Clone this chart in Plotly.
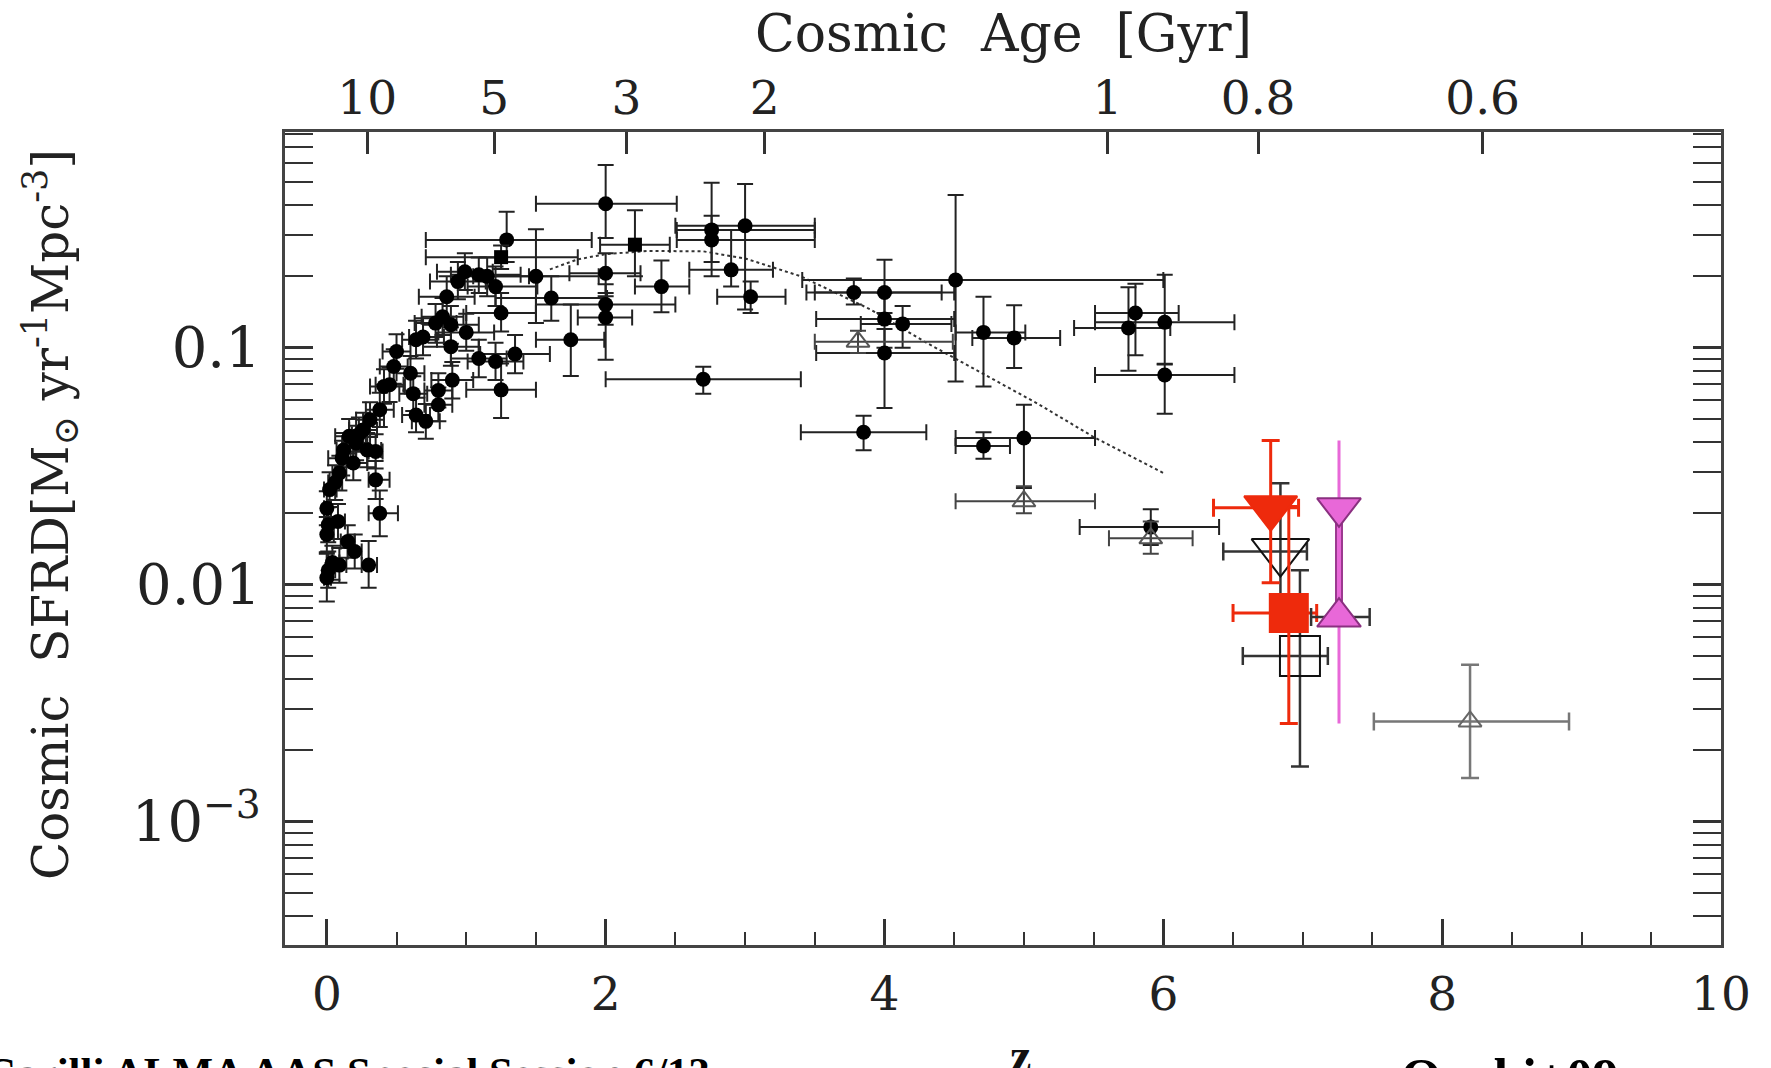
import plotly.graph_objects as go

# ---------------- data ----------------
# compilation of cosmic SFRD measurements: filled circles
circ_z = [0.00, 0.01, 0.04, 0.09, 0.00, 0.15, 0.20, 0.30, 0.01, 0.08, 0.00, 0.38, 0.02, 0.09, 0.35,
          0.11, 0.19, 0.29, 0.35, 0.16, 0.21, 0.26, 0.31, 0.38, 0.23, 0.12, 0.06, 0.41, 0.45, 0.48,
          0.50, 0.60, 0.62, 0.64, 0.71, 0.64, 0.69, 0.78, 0.80, 0.80, 0.83, 0.86, 0.89, 0.89, 0.90,
          0.94, 0.99, 1.00, 1.09, 1.15, 1.21, 1.09, 1.21, 1.25, 1.25, 1.29, 1.35, 1.50, 1.61, 1.75,
          2.00, 2.00, 2.00, 2.00, 2.40, 2.70, 2.76, 2.76, 2.90, 3.00, 3.04, 3.78, 4.00, 4.00, 4.00,
          4.13, 4.51, 4.71, 4.93, 3.85, 4.71, 5.00, 5.91, 5.80, 5.75, 6.01, 6.01]
circ_sfrd = [0.0107, 0.0115, 0.0124, 0.0121, 0.0163, 0.0152, 0.0138, 0.0121, 0.0179, 0.0185, 0.0210, 0.0200,
             0.0252, 0.0296, 0.0277, 0.0342, 0.0326, 0.0370, 0.0365, 0.0423, 0.0396, 0.0450, 0.0497, 0.0547,
             0.0430, 0.0370, 0.0270, 0.0686, 0.0698, 0.0833, 0.0964, 0.0780, 0.0640, 0.0520, 0.0489, 0.1080,
             0.1110, 0.1270, 0.0660, 0.0574, 0.1350, 0.1640, 0.1250, 0.1010, 0.0730, 0.1900, 0.2090, 0.1160,
             0.2030, 0.2000, 0.1810, 0.0900, 0.0875, 0.1400, 0.0664, 0.2850, 0.0940, 0.2000, 0.1620, 0.1080,
             0.4050, 0.2060, 0.1520, 0.1340, 0.1810, 0.0736, 0.3140, 0.2850, 0.2130, 0.3270, 0.1640, 0.1710,
             0.1710, 0.1320, 0.0950, 0.1260, 0.1930, 0.1160, 0.1100, 0.0440, 0.0385, 0.0416, 0.0175, 0.1400,
             0.1210, 0.1280, 0.0767]
circ_dz_minus = [0.02, 0.02, 0.04, 0.05, 0.02, 0.05, 0.05, 0.05, 0.03, 0.05, 0.02, 0.08, 0.04, 0.05, 0.05,
                 0.10, 0.10, 0.10, 0.05, 0.10, 0.10, 0.10, 0.10, 0.10, 0.05, 0.05, 0.05, 0.10, 0.10, 0.10,
                 0.10, 0.10, 0.10, 0.10, 0.10, 0.10, 0.10, 0.15, 0.10, 0.10, 0.15, 0.20, 0.20, 0.20, 0.15,
                 0.20, 0.20, 0.20, 0.20, 0.20, 0.20, 0.20, 0.20, 0.25, 0.25, 0.58, 0.25, 0.45, 0.40, 0.25,
                 0.50, 0.26, 0.50, 0.20, 0.19, 0.70, 0.25, 0.25, 0.30, 0.50, 0.24, 0.34, 0.50, 0.49, 0.49,
                 0.30, 1.10, 0.20, 0.30, 0.45, 0.20, 0.49, 0.51, 0.29, 0.39, 0.50, 0.50]
circ_dz_plus = [0.03, 0.05, 0.05, 0.05, 0.05, 0.05, 0.05, 0.06, 0.03, 0.05, 0.03, 0.13, 0.05, 0.05, 0.10,
                0.10, 0.10, 0.10, 0.05, 0.10, 0.10, 0.10, 0.10, 0.10, 0.05, 0.05, 0.05, 0.15, 0.10, 0.10,
                0.10, 0.10, 0.10, 0.10, 0.10, 0.15, 0.15, 0.15, 0.10, 0.10, 0.15, 0.20, 0.20, 0.20, 0.15,
                0.20, 0.20, 0.20, 0.30, 0.30, 0.30, 0.20, 0.20, 0.25, 0.25, 0.61, 0.25, 0.45, 0.40, 0.24,
                0.51, 0.25, 0.50, 0.19, 0.20, 0.70, 0.74, 0.74, 0.30, 0.50, 0.25, 0.63, 0.50, 0.50, 0.50,
                0.35, 1.49, 0.30, 0.33, 0.45, 0.19, 0.51, 0.49, 0.31, 0.30, 0.50, 0.50]
circ_sfrd_lo = [0.0085, 0.0097, 0.0105, 0.0102, 0.0137, 0.0130, 0.0117, 0.0097, 0.0151, 0.0156, 0.0178, 0.0160,
                0.0213, 0.0250, 0.0230, 0.0289, 0.0276, 0.0313, 0.0309, 0.0358, 0.0335, 0.0381, 0.0420, 0.0463,
                0.0364, 0.0313, 0.0228, 0.0580, 0.0590, 0.0705, 0.0815, 0.0660, 0.0541, 0.0440, 0.0413, 0.0900,
                0.0930, 0.1050, 0.0560, 0.0490, 0.1130, 0.1350, 0.1040, 0.0840, 0.0610, 0.1600, 0.1750, 0.0970,
                0.1700, 0.1650, 0.1500, 0.0750, 0.0730, 0.1170, 0.0505, 0.2300, 0.0780, 0.1270, 0.1300, 0.0760,
                0.2900, 0.1700, 0.1250, 0.0890, 0.1410, 0.0640, 0.2000, 0.2300, 0.1810, 0.1450, 0.1400, 0.1520,
                0.1400, 0.1000, 0.0556, 0.1000, 0.0720, 0.0686, 0.0820, 0.0369, 0.0340, 0.0256, 0.0147, 0.0930,
                0.0800, 0.0850, 0.0526]
circ_sfrd_hi = [0.0135, 0.0138, 0.0146, 0.0143, 0.0193, 0.0178, 0.0163, 0.0153, 0.0212, 0.0219, 0.0248, 0.0250,
                0.0298, 0.0350, 0.0333, 0.0405, 0.0385, 0.0437, 0.0431, 0.0500, 0.0468, 0.0532, 0.0588, 0.0646,
                0.0508, 0.0437, 0.0319, 0.0811, 0.0825, 0.0985, 0.1140, 0.0922, 0.0757, 0.0615, 0.0578, 0.1300,
                0.1330, 0.1530, 0.0780, 0.0680, 0.1620, 0.2000, 0.1500, 0.1220, 0.0870, 0.2300, 0.2500, 0.1390,
                0.2400, 0.2400, 0.2200, 0.1080, 0.1050, 0.1700, 0.0858, 0.3750, 0.1130, 0.3160, 0.2000, 0.1520,
                0.5900, 0.2500, 0.1850, 0.1650, 0.2330, 0.0830, 0.4970, 0.3600, 0.3140, 0.4910, 0.1900, 0.1960,
                0.2350, 0.1700, 0.1200, 0.1500, 0.4410, 0.1640, 0.1510, 0.0516, 0.0440, 0.0575, 0.0208, 0.1860,
                0.1800, 0.2030, 0.0855]

# filled black squares
sq_z = [1.25, 2.21]
sq_sfrd = [0.241, 0.272]
sq_dz_minus = [0.54, 0.25]
sq_dz_plus = [0.55, 0.25]
sq_sfrd_lo = [0.215, 0.200]
sq_sfrd_hi = [0.270, 0.380]

# open triangles (black)
otri_z = [3.81, 5.00, 5.91]
otri_sfrd = [0.106, 0.0225, 0.0157]
otri_dz_minus = [0.31, 0.49, 0.30]
otri_dz_plus = [0.68, 0.51, 0.30]
otri_sfrd_lo = [0.095, 0.020, 0.0135]
otri_sfrd_hi = [0.118, 0.026, 0.0185]

# open triangle (grey) at z~8.2
gtri_z = [8.20]
gtri_sfrd = [0.00265]
gtri_dz_minus = [0.69]
gtri_dz_plus = [0.71]
gtri_sfrd_lo = [0.00153]
gtri_sfrd_hi = [0.0046]

# z~7 points
red_tri_z = [6.77]; red_tri_sfrd = [0.0211]; red_tri_dz = [0.41, 0.20]; red_tri_lohi = [0.0102, 0.0406]
blk_tri_z = [6.84]; blk_tri_sfrd = [0.0138]; blk_tri_dz = [0.41, 0.19]; blk_tri_lohi = [0.0075, 0.0268]
red_sq_z = [6.90]; red_sq_sfrd = [0.0076]; red_sq_dz = [0.40, 0.20]; red_sq_lohi = [0.0026, 0.0214]
blk_sq_z = [6.98]; blk_sq_sfrd = [0.0050]; blk_sq_dz = [0.41, 0.20]; blk_sq_lohi = [0.00171, 0.0115]
pink_z = [7.26]; pink_hi_sfrd = [0.0211]; pink_lo_sfrd = [0.0073]; pink_dz = [0.20, 0.22]; pink_lohi = [0.0026, 0.0406]

# dotted model curve
model_z = [1.60, 1.80, 2.00, 2.30, 2.70, 3.00, 3.40, 3.90, 4.30, 4.70, 5.10, 5.50, 6.00]
model_sfrd = [0.214, 0.236, 0.248, 0.256, 0.255, 0.238, 0.200, 0.145, 0.105, 0.078, 0.058, 0.042, 0.0296]

# axis ticks
x_ticks = [0, 2, 4, 6, 8, 10]
age_tick_z = [0.29, 1.20, 2.15, 3.14, 5.60, 6.68, 8.29]
age_labels = ["10", "5", "3", "2", "1", "0.8", "0.6"]
y_ticks = [0.001, 0.01, 0.1]
y_tick_labels = ["10<sup>\u22123</sup>", "0.01", "0.1"]

FONT = "DejaVu Serif"
INK = "#222222"
RED = "#ee2a0c"
PINK = "#e868d8"


def errs(vals, lo, hi):
    return [h - v for v, h in zip(vals, hi)], [v - l for v, l in zip(vals, lo)]


fig = go.Figure()

# dotted model
fig.add_trace(go.Scatter(x=model_z, y=model_sfrd, mode="lines",
                         line=dict(color="#333333", width=2, dash="dot"), hoverinfo="skip"))

# filled circles
up, dn = errs(circ_sfrd, circ_sfrd_lo, circ_sfrd_hi)
fig.add_trace(go.Scatter(
    x=circ_z, y=circ_sfrd, mode="markers",
    marker=dict(symbol="circle", size=15, color="#000000"),
    error_x=dict(type="data", symmetric=False, array=circ_dz_plus, arrayminus=circ_dz_minus,
                 color=INK, thickness=2, width=8),
    error_y=dict(type="data", symmetric=False, array=up, arrayminus=dn,
                 color=INK, thickness=2, width=8)))

# filled squares
up, dn = errs(sq_sfrd, sq_sfrd_lo, sq_sfrd_hi)
fig.add_trace(go.Scatter(
    x=sq_z, y=sq_sfrd, mode="markers",
    marker=dict(symbol="square", size=14, color="#000000"),
    error_x=dict(type="data", symmetric=False, array=sq_dz_plus, arrayminus=sq_dz_minus,
                 color=INK, thickness=2, width=8),
    error_y=dict(type="data", symmetric=False, array=up, arrayminus=dn,
                 color=INK, thickness=2, width=8)))

# open triangles
up, dn = errs(otri_sfrd, otri_sfrd_lo, otri_sfrd_hi)
fig.add_trace(go.Scatter(
    x=otri_z, y=otri_sfrd, mode="markers",
    marker=dict(symbol="triangle-up-open", size=20, color="#555555", line=dict(width=2)),
    error_x=dict(type="data", symmetric=False, array=otri_dz_plus, arrayminus=otri_dz_minus,
                 color="#444444", thickness=2, width=8),
    error_y=dict(type="data", symmetric=False, array=up, arrayminus=dn,
                 color="#444444", thickness=2, width=8)))

up, dn = errs(gtri_sfrd, gtri_sfrd_lo, gtri_sfrd_hi)
fig.add_trace(go.Scatter(
    x=gtri_z, y=gtri_sfrd, mode="markers",
    marker=dict(symbol="triangle-up-open", size=20, color="#666666", line=dict(width=2)),
    error_x=dict(type="data", symmetric=False, array=gtri_dz_plus, arrayminus=gtri_dz_minus,
                 color="#777777", thickness=2.5, width=9),
    error_y=dict(type="data", symmetric=False, array=up, arrayminus=dn,
                 color="#777777", thickness=2.5, width=9)))


def special(zv, yv, dz, lohi, symbol, size, fill, edge, ecol, ewidth=2.5):
    fig.add_trace(go.Scatter(
        x=zv, y=yv, mode="markers",
        marker=dict(symbol=symbol, size=size, color=fill, line=dict(color=edge, width=2)),
        error_x=dict(type="data", symmetric=False, array=[dz[1]], arrayminus=[dz[0]],
                     color=ecol, thickness=ewidth, width=9),
        error_y=dict(type="data", symmetric=False, array=[lohi[1] - yv[0]],
                     arrayminus=[yv[0] - lohi[0]], color=ecol, thickness=ewidth, width=9)))


# black open square and open inverted triangle
special(blk_sq_z, blk_sq_sfrd, blk_sq_dz, blk_sq_lohi, "square-open", 40, "#111111", "#111111", "#333333")
special(blk_tri_z, blk_tri_sfrd, blk_tri_dz, blk_tri_lohi, "triangle-down-open", 50, "#111111", "#111111", "#333333")
# red filled square and inverted triangle
special(red_sq_z, red_sq_sfrd, red_sq_dz, red_sq_lohi, "square", 38, RED, RED, RED, 3)
special(red_tri_z, red_tri_sfrd, red_tri_dz, red_tri_lohi, "triangle-down", 46, RED, RED, RED, 3)

# pink bow-tie (range between two limits)
fig.add_trace(go.Scatter(x=[pink_z[0], pink_z[0]], y=[pink_lohi[0], pink_lohi[1]], mode="lines",
                         line=dict(color=PINK, width=3)))
fig.add_trace(go.Scatter(x=[pink_z[0], pink_z[0]], y=[pink_lo_sfrd[0], pink_hi_sfrd[0]], mode="lines",
                         line=dict(color="#9c3a90", width=8)))
fig.add_trace(go.Scatter(x=[pink_z[0], pink_z[0]], y=[pink_lo_sfrd[0], pink_hi_sfrd[0]], mode="lines",
                         line=dict(color=PINK, width=4)))
fig.add_trace(go.Scatter(
    x=pink_z, y=pink_lo_sfrd, mode="markers",
    marker=dict(symbol="triangle-up", size=38, color=PINK, line=dict(color="#8a3080", width=2)),
    error_x=dict(type="data", symmetric=False, array=[pink_dz[1]], arrayminus=[pink_dz[0]],
                 color="#333333", thickness=2.5, width=9)))
fig.add_trace(go.Scatter(
    x=pink_z, y=pink_hi_sfrd, mode="markers",
    marker=dict(symbol="triangle-down", size=38, color=PINK, line=dict(color="#8a3080", width=2))))

# top axis carrier (invisible trace)
fig.add_trace(go.Scatter(x=[age_tick_z[0]], y=[0.1], xaxis="x2", mode="markers",
                         marker=dict(opacity=0), hoverinfo="skip"))

minor_y = [m * 10.0 ** e for e in range(-4, 0) for m in range(2, 10)]

fig.update_layout(
    width=1771, height=1068,
    margin=dict(l=285, r=50, t=132, b=123),
    paper_bgcolor="white", plot_bgcolor="white",
    showlegend=False,
    font=dict(family=FONT, color="#222222"),
    xaxis=dict(range=[-0.3, 10], tickmode="array", tickvals=x_ticks,
               ticks="inside", ticklen=26, tickwidth=2.5, tickcolor="#333333",
               minor=dict(dtick=0.5, ticks="inside", ticklen=13, tickwidth=2, tickcolor="#333333"),
               showline=True, linewidth=3, linecolor="#444444", mirror=True,
               showgrid=False, zeroline=False,
               tickfont=dict(family=FONT, size=47, color="#222222"), ticklabelstandoff=6),
    xaxis2=dict(range=[-0.3, 10], overlaying="x", side="top", tickmode="array",
                tickvals=age_tick_z, ticktext=age_labels,
                ticks="inside", ticklen=22, tickwidth=2.5, tickcolor="#333333",
                showline=False, showgrid=False, zeroline=False,
                tickfont=dict(family=FONT, size=47, color="#222222"), ticklabelstandoff=8),
    yaxis=dict(type="log", range=[-3.52, -0.09], tickmode="array", tickvals=y_ticks,
               ticktext=y_tick_labels,
               ticks="inside", ticklen=28, tickwidth=2.5, tickcolor="#333333",
               minor=dict(tickvals=minor_y, ticks="inside", ticklen=14, tickwidth=2, tickcolor="#333333"),
               showline=True, linewidth=3, linecolor="#444444", mirror="allticks",
               showgrid=False, zeroline=False,
               tickfont=dict(family=FONT, size=56, color="#222222"), ticklabelstandoff=10),
    annotations=[
        dict(text="Cosmic&nbsp; Age&nbsp; [Gyr]", xref="paper", yref="paper", x=0.5, y=1.122,
             showarrow=False, font=dict(family=FONT, size=52, color="#222222"),
             xanchor="center", yanchor="middle"),
        dict(text="Cosmic&nbsp; SFRD[M<sub>\u2299</sub>&nbsp;yr<sup>-1</sup>Mpc<sup>-3</sup>]", xref="paper",
             yref="paper", x=-0.163, y=0.53, textangle=-90, showarrow=False,
             font=dict(family=FONT, size=50, color="#222222"), xanchor="center", yanchor="middle"),
        dict(text="<b>z</b>", xref="paper", yref="paper", x=0.5125, y=-0.101, showarrow=False,
             font=dict(family="Liberation Serif", size=48, color="#111111"),
             xanchor="center", yanchor="top"),
        dict(text="<b>Carilli ALMA AAS Special Session 6/13</b>", xref="paper", yref="paper",
             x=-0.21, y=-0.125, showarrow=False,
             font=dict(family="Liberation Serif", size=43, color="#000000"),
             xanchor="left", yanchor="top"),
        dict(text="<b>Ouchi+09</b>", xref="paper", yref="paper", x=0.776, y=-0.125, showarrow=False,
             font=dict(family="Liberation Serif", size=52, color="#000000"),
             xanchor="left", yanchor="top"),
    ],
)

fig.write_html("out.html", config={"displayModeBar": False},
               post_script="document.body.style.margin='0';document.body.style.overflow='hidden';")
